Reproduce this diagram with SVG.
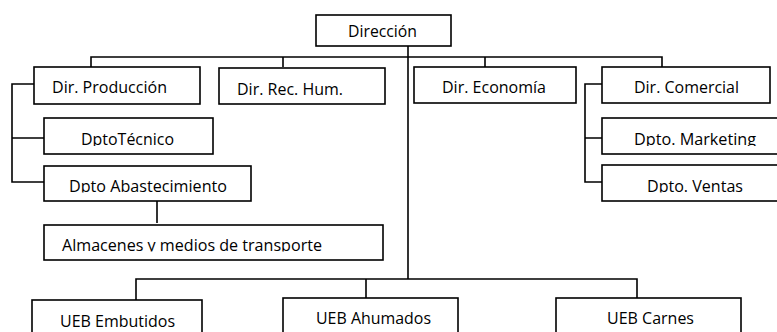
<svg xmlns="http://www.w3.org/2000/svg" width="777" height="332" viewBox="0 0 777 332">
<style>
.box{fill:#fff;stroke:#000;stroke-width:1.6}
.ln{fill:none;stroke:#000;stroke-width:1.6}
text{font-family:"Open Sans","Noto Sans","Liberation Sans",sans-serif;font-size:16.5px;fill:#000}
</style>
<defs>
<clipPath id="cTec"><rect x="44" y="118" width="170" height="28"/></clipPath>
<clipPath id="cMkt"><rect x="602" y="118" width="180" height="28"/></clipPath>
<clipPath id="cAba"><rect x="44" y="166" width="208" height="26.5"/></clipPath>
<clipPath id="cVen"><rect x="602" y="165" width="180" height="27.5"/></clipPath>
<clipPath id="cAlm"><rect x="44" y="225" width="340" height="26.5"/></clipPath>
</defs>
<rect width="777" height="332" fill="#fff"/>
<g id="connectors">
<path class="ln" d="M408 46V279"/>
<path class="ln" d="M91 67V57H662V67M283 57V67M485 57V67"/>
<path class="ln" d="M34 84H12V182H44M12 138H44"/>
<path class="ln" d="M602 84H585V182H602M585 138H602"/>
<path class="ln" d="M157 201V223"/>
<path class="ln" d="M136 300V279H637V298M366 279V298"/>
</g>
<g id="direccion"><rect class="box" x="316" y="15" width="135" height="31"/><text x="348" y="37" textLength="69" lengthAdjust="spacingAndGlyphs">Dirección</text></g>
<g id="dir-produccion"><rect class="box" x="34" y="67" width="166" height="37"/><text x="52" y="93" textLength="115" lengthAdjust="spacingAndGlyphs">Dir. Producción</text></g>
<g id="dir-rec-hum"><rect class="box" x="219" y="68" width="166" height="36"/><text x="237" y="95" textLength="106" lengthAdjust="spacingAndGlyphs">Dir. Rec. Hum.</text></g>
<g id="dir-economia"><rect class="box" x="414" y="67" width="162" height="36"/><text x="442" y="93" textLength="104" lengthAdjust="spacingAndGlyphs">Dir. Economía</text></g>
<g id="dir-comercial"><rect class="box" x="602" y="67" width="168" height="36"/><text x="634" y="93" textLength="105" lengthAdjust="spacingAndGlyphs">Dir. Comercial</text></g>
<g id="dpto-tecnico"><rect class="box" x="44" y="118" width="169" height="36"/><text clip-path="url(#cTec)" x="81" y="145" textLength="93" lengthAdjust="spacingAndGlyphs">DptoTécnico</text></g>
<g id="dpto-marketing"><rect class="box" x="602" y="118" width="180" height="36"/><text clip-path="url(#cMkt)" x="634" y="145" textLength="122" lengthAdjust="spacingAndGlyphs">Dpto. Marketing</text></g>
<g id="dpto-abastecimiento"><rect class="box" x="44" y="166" width="207" height="35"/><text clip-path="url(#cAba)" x="69" y="191.5" textLength="158" lengthAdjust="spacingAndGlyphs">Dpto Abastecimiento</text></g>
<g id="dpto-ventas"><rect class="box" x="602" y="165" width="180" height="36"/><text clip-path="url(#cVen)" x="647" y="191.5" textLength="96" lengthAdjust="spacingAndGlyphs">Dpto. Ventas</text></g>
<g id="almacenes"><rect class="box" x="44" y="225" width="339" height="35"/><text clip-path="url(#cAlm)" x="62" y="250.5" textLength="260" lengthAdjust="spacingAndGlyphs">Almacenes y medios de transporte</text></g>
<g id="ueb-embutidos"><rect class="box" x="32" y="300" width="170" height="40"/><text x="60" y="327" textLength="115" lengthAdjust="spacingAndGlyphs">UEB Embutidos</text></g>
<g id="ueb-ahumados"><rect class="box" x="283" y="298" width="175" height="42"/><text x="316" y="324" textLength="115" lengthAdjust="spacingAndGlyphs">UEB Ahumados</text></g>
<g id="ueb-carnes"><rect class="box" x="556" y="298" width="185" height="42"/><text x="607" y="324" textLength="87" lengthAdjust="spacingAndGlyphs">UEB Carnes</text></g>
</svg>
